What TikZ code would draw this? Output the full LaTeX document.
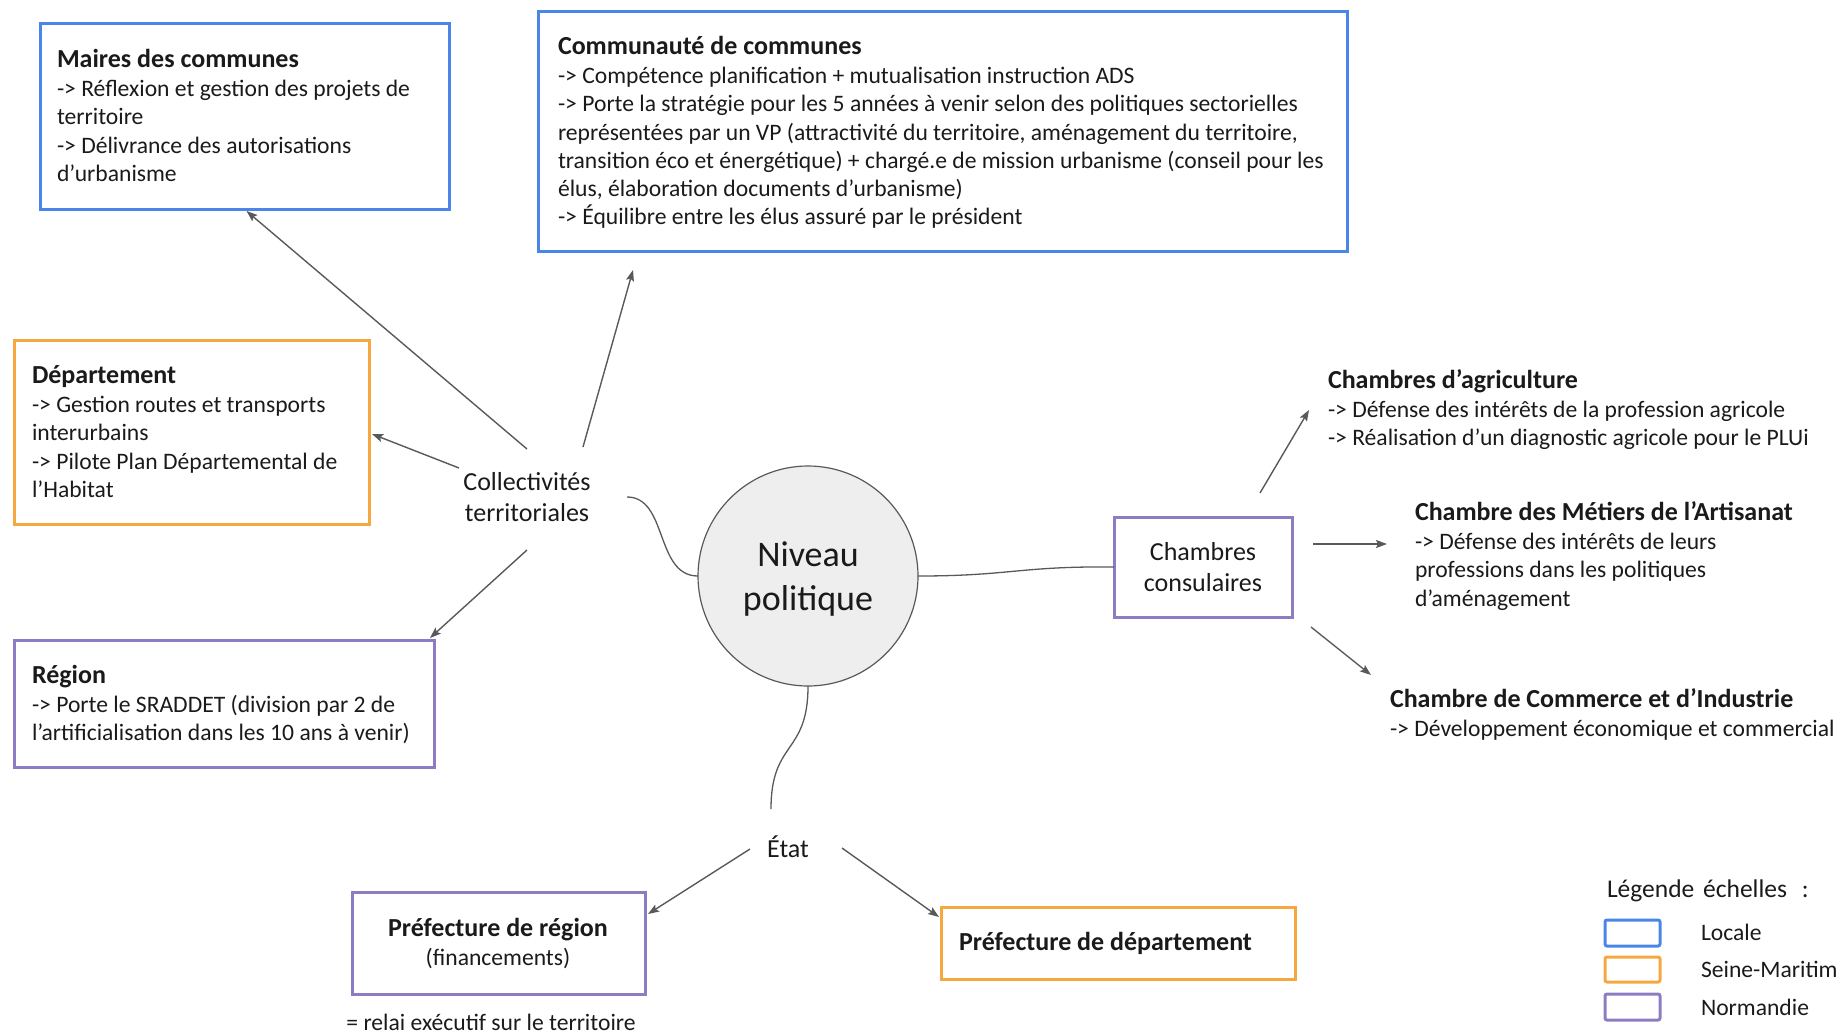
\documentclass[tikz,border=0pt]{standalone}
\usepackage{fontspec}
\setmainfont{Carlito}
\usetikzlibrary{arrows.meta,calc}

\definecolor{locale}{HTML}{4A86E8}
\definecolor{seine}{HTML}{F7A740}
\definecolor{normandie}{HTML}{8E7CC3}
\definecolor{linkgray}{HTML}{595959}
\definecolor{txt}{HTML}{1A1A1A}
\definecolor{disc}{HTML}{EEEEEE}

% text block whose baseline is the baseline of its first line
\newcommand{\txtblock}[2][l]{\begin{tabular}[t]{@{}#1@{}}#2\end{tabular}}
\newcommand{\ttl}[1]{{\fontsize{26}{30}\selectfont\bfseries #1}\\[1.4pt]}

\begin{document}
\begin{tikzpicture}[x=1pt,y=-1pt,
  every node/.style={inner sep=0pt, outer sep=0pt, text=txt},
  scalebox/.style={draw=#1, line width=3pt, rectangle, anchor=north west},
  body/.style={font=\fontsize{23.6}{28.2}\selectfont, anchor=base west},
  lbl/.style={font=\fontsize{26}{31.7}\selectfont, align=center},
  arr/.style={draw=linkgray, line width=1.4pt, -{Stealth[length=11pt,width=8pt,inset=2pt]}},
  link/.style={draw=linkgray, line width=1.3pt},
  legbox/.style={draw=#1, line width=3pt, rounded corners=2pt},
]
\useasboundingbox (0,0) rectangle (1838,1034);
\clip (0,0) rectangle (1838,1034);

% ---- boxes coloured by scale ----
\node[scalebox=locale, minimum width=409pt, minimum height=186pt] (maires) at (40,23) {};
\node[scalebox=locale, minimum width=809pt, minimum height=240pt] (comm) at (538,11) {};
\node[scalebox=seine, minimum width=355pt, minimum height=184pt] (dept) at (14,340) {};
\node[scalebox=normandie, minimum width=420pt, minimum height=127pt] (region) at (14,640) {};
\node[scalebox=normandie, minimum width=178pt, minimum height=100pt, lbl] (chcons) at (1114,517) {Chambres\\consulaires};
\node[scalebox=normandie, minimum width=293pt, minimum height=102pt] (prefreg) at (352,892) {};
\node[scalebox=seine, minimum width=354pt, minimum height=72pt] (prefdep) at (941,907) {};

% ---- box texts ----
\node[body] (mairestxt) at (57,67) {\txtblock{\ttl{Maires des communes}-> Réflexion et gestion des projets de\\territoire\\-> Délivrance des autorisations\\d’urbanisme}};
\node[body] (commtxt) at (558,54) {\txtblock{\ttl{Communauté de communes}-> Compétence planification + mutualisation instruction ADS\\-> Porte la stratégie pour les 5 années à venir selon des politiques sectorielles\\représentées par un VP (attractivité du territoire, aménagement du territoire,\\transition éco et énergétique) + chargé.e de mission urbanisme (conseil pour les\\élus, élaboration documents d’urbanisme)\\-> Équilibre entre les élus assuré par le président}};
\node[body] (depttxt) at (32,383) {\txtblock{\ttl{Département}-> Gestion routes et transports\\interurbains\\-> Pilote Plan Départemental de\\l’Habitat}};
\node[body] (regiontxt) at (32,683) {\txtblock{\ttl{Région}-> Porte le SRADDET (division par 2 de\\l’artificialisation dans les 10 ans à venir)}};
\node[body, anchor=base] (prefregtxt) at (498,936) {\txtblock[c]{\ttl{Préfecture de région}(financements)}};
\node[body] (prefdeptxt) at (959,950) {\txtblock{\ttl{Préfecture de département}}};
\node[body, anchor=base] (relai) at (491,1030) {= relai exécutif sur le territoire};

% ---- chambers ----
\node[body] (agri) at (1328,388) {\txtblock{\ttl{Chambres d’agriculture}-> Défense des intérêts de la profession agricole\\-> Réalisation d’un diagnostic agricole pour le PLUi}};
\node[body] (cma) at (1415,520) {\txtblock{\ttl{Chambre des Métiers de l’Artisanat}-> Défense des intérêts de leurs\\professions dans les politiques\\d’aménagement}};
\node[body] (cci) at (1390,707) {\txtblock{\ttl{Chambre de Commerce et d’Industrie}-> Développement économique et commercial}};

% ---- hub ----
\node[circle, minimum size=220pt, fill=disc, draw=linkgray, line width=1.2pt,
      font=\fontsize{36}{44.5}\selectfont, align=center] (niveau) at (808,576) {};
\node[font=\fontsize{36}{44.5}\selectfont, align=center] (niveautxt) at (808,579) {Niveau\\politique};
\node[lbl] (coll) at (527,497) {Collectivités\\territoriales};
\node[lbl] (etat) at (788,847) {État};

% ---- curved links from the hub ----
\draw[link] ($(coll)+(100,0)$) .. controls (668,497) and (655,576) .. (niveau.west);
\draw[link] (niveau.east) .. controls (1010,576) and (1020,566) .. (chcons.west);
\draw[link] (niveau.south) .. controls (808,755) and (771,740) .. ($(etat)+(-17,-38)$);

% ---- arrows ----
\draw[arr] ($(coll)+(0,-48)$) -- ($(maires.south)+(2,2)$);
\draw[arr] ($(coll)+(56,-50)$) -- ($(comm.south west)+(95,19)$);
\draw[arr] ($(coll)+(-68,-29)$) -- ($(dept.east)+(3,2)$);
\draw[arr] ($(coll)+(0,53)$) -- ($(region.north east)+(-4,-2)$);
\draw[arr] ($(etat)+(-38,2)$) -- ($(prefreg.north east)+(3,22)$);
\draw[arr] ($(etat)+(54,1)$) -- ($(prefdep.north west)+(-2,10)$);
\draw[arr] ($(chcons.north)+(57,-24)$) -- ($(agri.base west)+(-19,22)$);
\draw[arr] ($(chcons.east)+(21,-23)$) -- ($(cma.base west)+(-28,24)$);
\draw[arr] ($(chcons.south east)+(19,10)$) -- ($(cci.base west)+(-19,-32)$);

% ---- legend ----
\node[font=\fontsize{25.5}{28}\selectfont, anchor=base west] (legtitle) at (1607,897) {Légende \hspace{3pt}échelles \hspace{9pt}:};
\draw[legbox=locale] (1605,920) rectangle (1660,946);
\draw[legbox=seine] (1605,957) rectangle (1660,982);
\draw[legbox=normandie] (1605,994) rectangle (1660,1020);
\node[font=\fontsize{23.6}{28}\selectfont, anchor=base west] (leglocale) at (1701,940) {Locale};
\node[font=\fontsize{23.6}{28}\selectfont, anchor=base west] (legseine) at (1701,977) {Seine-Maritime};
\node[font=\fontsize{23.6}{28}\selectfont, anchor=base west] (legnorm) at (1701,1015) {Normandie};
\end{tikzpicture}
\end{document}
